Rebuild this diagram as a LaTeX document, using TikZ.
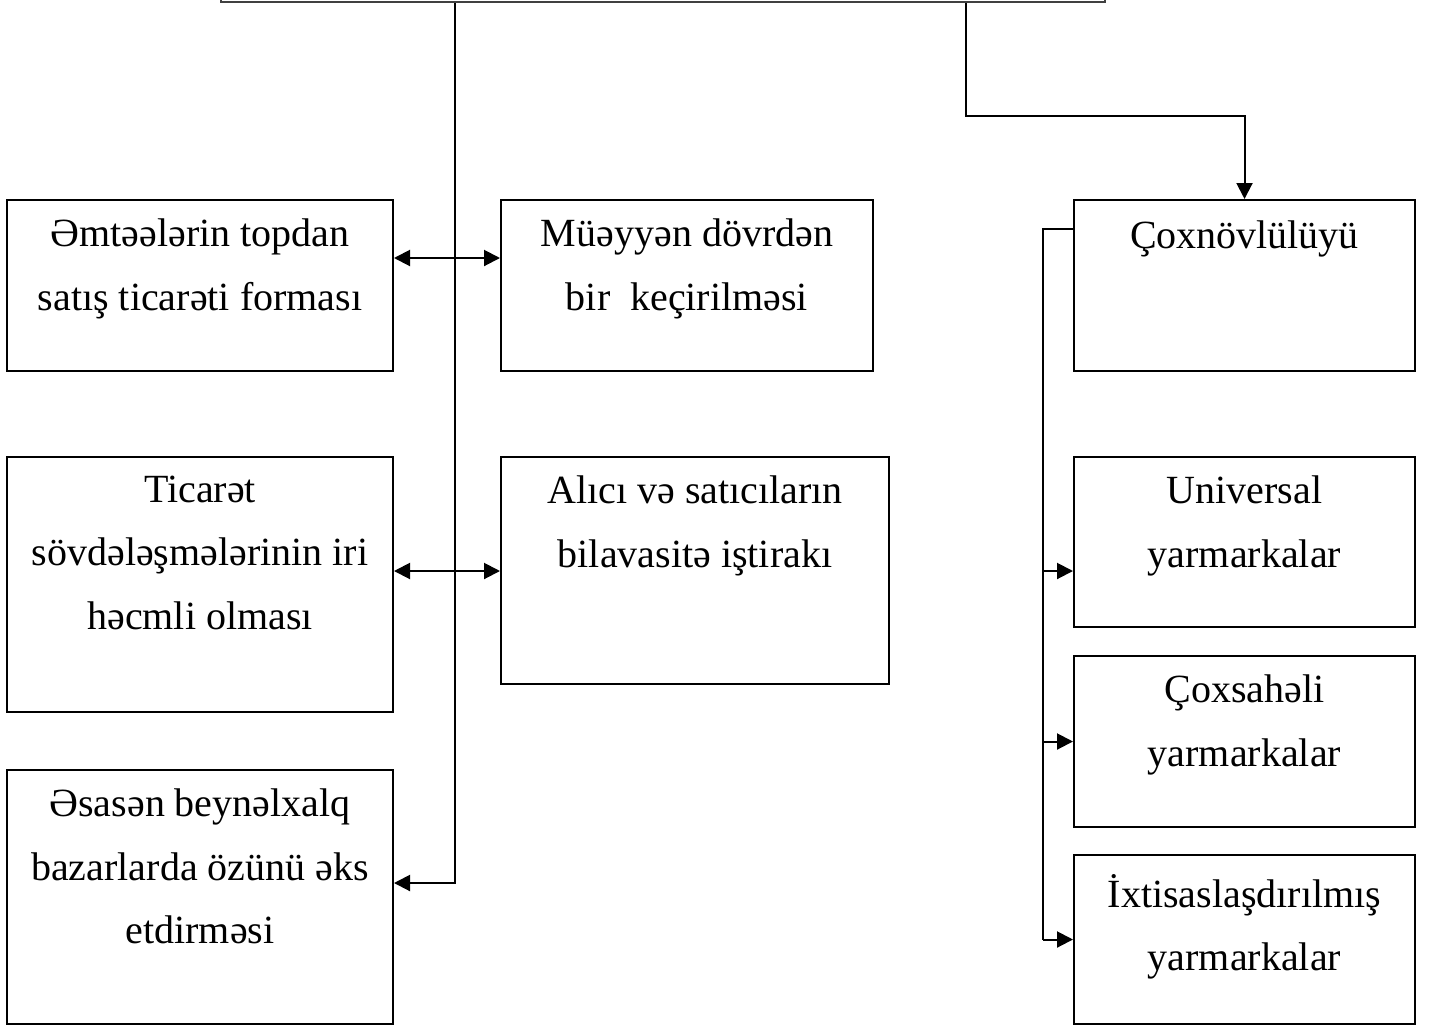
\documentclass[tikz,border=0pt]{standalone}
\usepackage{fontspec}
\setmainfont{Liberation Serif}
\usetikzlibrary{arrows.meta}
\tikzset{yarm/.style={x=1pt,y=-1pt,line width=2pt,>={Triangle[length=16pt,width=16pt]}},
  blk/.style={draw,line width=2pt,rectangle,inner sep=0pt},
  txt/.style={anchor=north,align=center,inner sep=0pt,
    font=\fontsize{40}{63.5}\selectfont,execute at begin node=\strut}}

\begin{document}
\begin{tikzpicture}[yarm]
    \useasboundingbox (0,0) rectangle (1429,1026);
    \clip (0,0) rectangle (1429,1026);
    % boxes
    \node[blk,draw=black!75,minimum width=884pt,minimum height=122pt] (top) at (663,-59) {};
    \node[blk,minimum width=386pt,minimum height=171pt] (A) at (200,285.5) {};
    \node[blk,minimum width=372pt,minimum height=171pt] (B) at (687,285.5) {};
    \node[blk,minimum width=386pt,minimum height=255pt] (C) at (200,584.5) {};
    \node[blk,minimum width=388pt,minimum height=227pt] (D) at (695,570.5) {};
    \node[blk,minimum width=386pt,minimum height=254pt] (E) at (200,897) {};
    \node[blk,minimum width=341pt,minimum height=171pt] (F) at (1244.5,285.5) {};
    \node[blk,minimum width=341pt,minimum height=170pt] (G) at (1244.5,542) {};
    \node[blk,minimum width=341pt,minimum height=171pt] (H) at (1244.5,741.5) {};
    \node[blk,minimum width=341pt,minimum height=169pt] (I) at (1244.5,939.5) {};
    % texts
    \node[txt] (tA) at ([yshift=-19pt]A.north) {Əmtəələrin topdan\\satış ticarəti forması};
    \node[txt] (tB) at ([yshift=-19pt]B.north) {Müəyyən dövrdən\\bir \ keçirilməsi};
    \node[txt] (tC) at ([yshift=-19pt]C.north) {Ticarət\\sövdələşmələrinin iri\\həcmli olması};
    \node[txt] (tD) at ([yshift=-19pt]D.north) {Alıcı və satıcıların\\bilavasitə iştirakı};
    \node[txt] (tE) at ([yshift=-19pt]E.north) {Əsasən beynəlxalq\\bazarlarda özünü əks\\etdirməsi};
    \node[txt] (tF) at ([yshift=-4pt]F.north) {Çoxnövlülüyü};
    \node[txt] (tG) at ([yshift=-19pt]G.north) {Universal\\yarmarkalar};
    \node[txt] (tH) at ([yshift=-19pt]H.north) {Çoxsahəli\\yarmarkalar};
    \node[txt] (tI) at ([yshift=-19pt]I.north) {İxtisaslaşdırılmış\\yarmarkalar};
    % connectors
    \coordinate (trunk) at (455,0);
    \coordinate (br) at (966,116);
    \coordinate (rs) at (1043,0);
    \draw[->] (top.south -| trunk) |- ([yshift=14pt]E.east);
    \draw[<->] ([yshift=27.5pt]A.east) -- ([yshift=27.5pt]A.east -| B.west);
    \draw[<->] ([yshift=13.5pt]C.east) -- ([yshift=13.5pt]C.east -| D.west);
    \draw[->] (top.south -| br) -- (br) -| (F.north);
    \draw ([yshift=56.5pt]F.west) -| (rs |- I.west);
    \draw[->] ([yshift=-29pt]G.west -| rs) -- ([yshift=-29pt]G.west);
    \draw[->] (rs |- H.west) -- (H.west);
    \draw[->] (rs |- I.west) -- (I.west);
\end{tikzpicture}
\end{document}
